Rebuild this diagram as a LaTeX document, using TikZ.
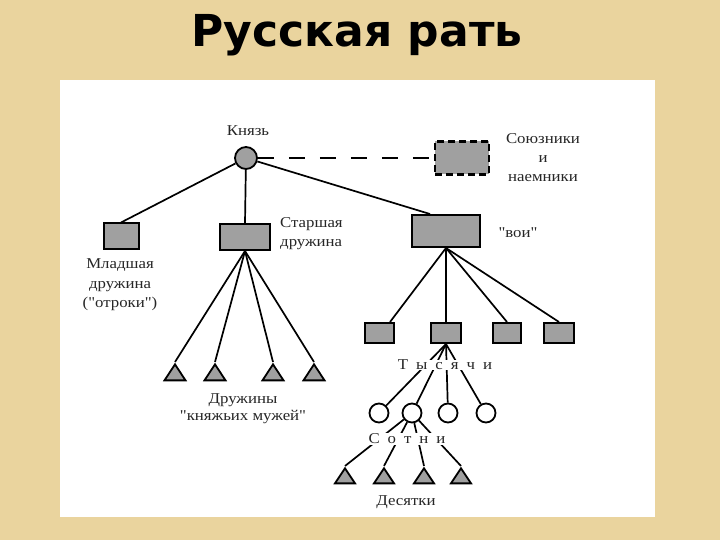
\documentclass[tikz,border=0pt]{standalone}
\usepackage{fontspec}
\usetikzlibrary{shapes.geometric}
\setmainfont{Liberation Serif}[FakeStretch=1.12, Ligatures=TeXOff]
\newfontfamily\titlefont{DejaVu Sans}
\definecolor{parch}{RGB}{234,212,158}
\definecolor{boxgray}{RGB}{160,160,160}
\tikzset{
  lbl/.style={font=\fontsize{15}{17}\selectfont, inner sep=1pt, align=center, text=black!85},
  gbox/.style={draw=black, fill=boxgray, line width=2pt, inner sep=0pt},
  tri/.style={isosceles triangle, isosceles triangle stretches, shape border rotate=90,
     draw=black, fill=boxgray, line width=1.8pt, inner sep=0pt, anchor=apex},
  ring/.style={circle, draw=black, fill=white, line width=1.8pt, inner sep=0pt, minimum size=19pt},
  conn/.style={line width=1.7pt},
}
\begin{document}
\begin{tikzpicture}[x=1pt,y=-1pt]
\useasboundingbox (0,0) rectangle (720,540);
\fill[parch] (0,0) rectangle (720,540);
\fill[white] (60,80) rectangle (655,517);
\node[anchor=base, font=\titlefont\bfseries\fontsize{44}{50}\selectfont] (title) at (357,47) {Русская рать};

% prince
\node[circle, draw=black, fill=boxgray, line width=1.8pt, minimum size=22pt, inner sep=0pt] (kn) at (246,158) {};
\node[lbl] (knl) at (248,131) {Князь};
\node[gbox, dashed, dash pattern=on 7pt off 4pt, line width=2.2pt, minimum width=54pt, minimum height=33pt] (sojuz) at (462,158) {};
\node[lbl, font=\fontsize{15}{19}\selectfont] (sojuzl) at (543,158) {Союзники\\и\\наемники};
\draw[conn, line width=2.2pt, dash pattern=on 16pt off 15pt] (kn) -- (sojuz);

% second level
\node[gbox, minimum width=35pt, minimum height=25pt] (mlad) at (121,236) {};
\node[lbl, font=\fontsize{15}{19.5}\selectfont] (mladl) at (120,285) {Младшая\\дружина\\("отроки")};
\node[gbox, minimum width=50pt, minimum height=26pt] (star) at (245,237) {};
\node[lbl, anchor=west, align=left, font=\fontsize{15}{19}\selectfont] (starl) at (279,234) {Старшая\\дружина};
\node[gbox, minimum width=68pt, minimum height=32pt] (voi) at (446,231) {};
\node[lbl] (voil) at (518,233) {"вои"};

\draw[conn] (kn) -- (mlad.north);
\draw[conn] (kn) -- (star.north);
\draw[conn] (kn) -- (voi.north -| 430,0);

% druzhiny
\node[tri, minimum width=21pt, minimum height=16pt] (d1) at (175,362) {};
\node[tri, minimum width=21pt, minimum height=16pt] (d2) at (215,362) {};
\node[tri, minimum width=21pt, minimum height=16pt] (d3) at (273,362) {};
\node[tri, minimum width=21pt, minimum height=16pt] (d4) at (314,362) {};
\foreach \t in {d1,d2,d3,d4} \draw[conn] (star.south) -- (\t.apex);
\node[lbl, font=\fontsize{15}{17}\selectfont] (drl) at (243,409) {Дружины\\"княжьих мужей"};

% thousands
\node[gbox, minimum width=29pt, minimum height=20pt] (k1) at (379,333) {};
\node[gbox, minimum width=30pt, minimum height=20pt] (k2) at (446,333) {};
\node[gbox, minimum width=28pt, minimum height=20pt] (k3) at (507,333) {};
\node[gbox, minimum width=30pt, minimum height=20pt] (k4) at (559,333) {};
\draw[conn] (voi.south) -- (k1.north -| 390,0);
\draw[conn] (voi.south) -- (k2.north);
\draw[conn] (voi.south) -- (k3.north);
\draw[conn] (voi.south) -- (k4.north);

% hundreds
\node[ring] (c1) at (379,413) {};
\node[ring] (c2) at (412,413) {};
\node[ring] (c3) at (448,413) {};
\node[ring] (c4) at (486,413) {};
\foreach \c in {c1,c2,c3,c4} \draw[conn] (k2.south) -- (\c);
\node[lbl, fill=white, inner sep=0.5pt] (tys) at (445,365) {{\spaceskip=8pt Т ы с я ч и}};

% tens
\node[tri, minimum width=20pt, minimum height=15pt] (t1) at (345,466) {};
\node[tri, minimum width=20pt, minimum height=15pt] (t2) at (384,466) {};
\node[tri, minimum width=20pt, minimum height=15pt] (t3) at (424,466) {};
\node[tri, minimum width=20pt, minimum height=15pt] (t4) at (461,466) {};
\foreach \t in {t1,t2,t3,t4} \draw[conn] (c2) -- (\t.apex);
\node[lbl, fill=white, inner sep=0.5pt] (sot) at (407,439) {{\spaceskip=8pt С о т н и}};
\node[lbl] (des) at (406,502) {Десятки};
\end{tikzpicture}
\end{document}
